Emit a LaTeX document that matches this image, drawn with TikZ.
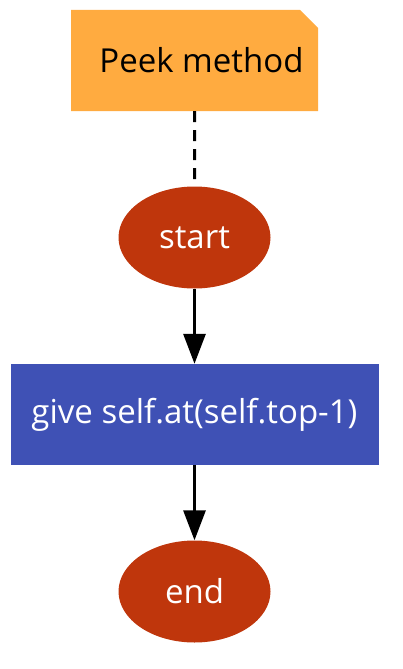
\documentclass[tikz,border=0pt]{standalone}
\usepackage{fontspec}
\setmainfont{Open Sans}
\usetikzlibrary{arrows.meta,shapes.geometric,shapes.misc}

\definecolor{noteorange}{HTML}{FFAB40}
\definecolor{termred}{HTML}{BF360C}
\definecolor{stepblue}{HTML}{3F51B5}

\begin{document}
\begin{tikzpicture}[x=1pt, y=-1pt, >={Triangle[length=30pt, width=22pt]}, node distance=177pt]
            \tikzset{note/.style = {chamfered rectangle, chamfered rectangle corners=north east,
                        chamfered rectangle xsep=9pt, chamfered rectangle ysep=9pt,
                        fill=noteorange, minimum width=247pt, minimum height=101pt,
                        inner sep=0pt, text=black}}
            \tikzset{terminal/.style = {ellipse, fill=termred, text=white,
                        minimum width=152pt, minimum height=102pt, inner sep=0pt}}
            \tikzset{action/.style = {rectangle, fill=stepblue, text=white,
                        minimum width=368pt, minimum height=101pt, inner sep=0pt}}
            \tikzset{flow/.style = {->, line width=3pt}}
            \fontsize{33}{39}\selectfont

            \useasboundingbox (0,0) rectangle (403,669);

            \node[note] (peek) at (194.5,60.5) {\hspace*{14pt}Peek method};
            \node[terminal, below of=peek] (start) {start};
            \node[action, below of=start] (give) {give self.at(self.top-1)};
            \node[terminal, below of=give] (end) {end};

            \draw[line width=3pt, dash pattern=on 11pt off 8pt] (peek) -- (start);
            \draw[flow] (start) -- (give);
            \draw[flow] (give) -- (end);
        \end{tikzpicture}
\end{document}
